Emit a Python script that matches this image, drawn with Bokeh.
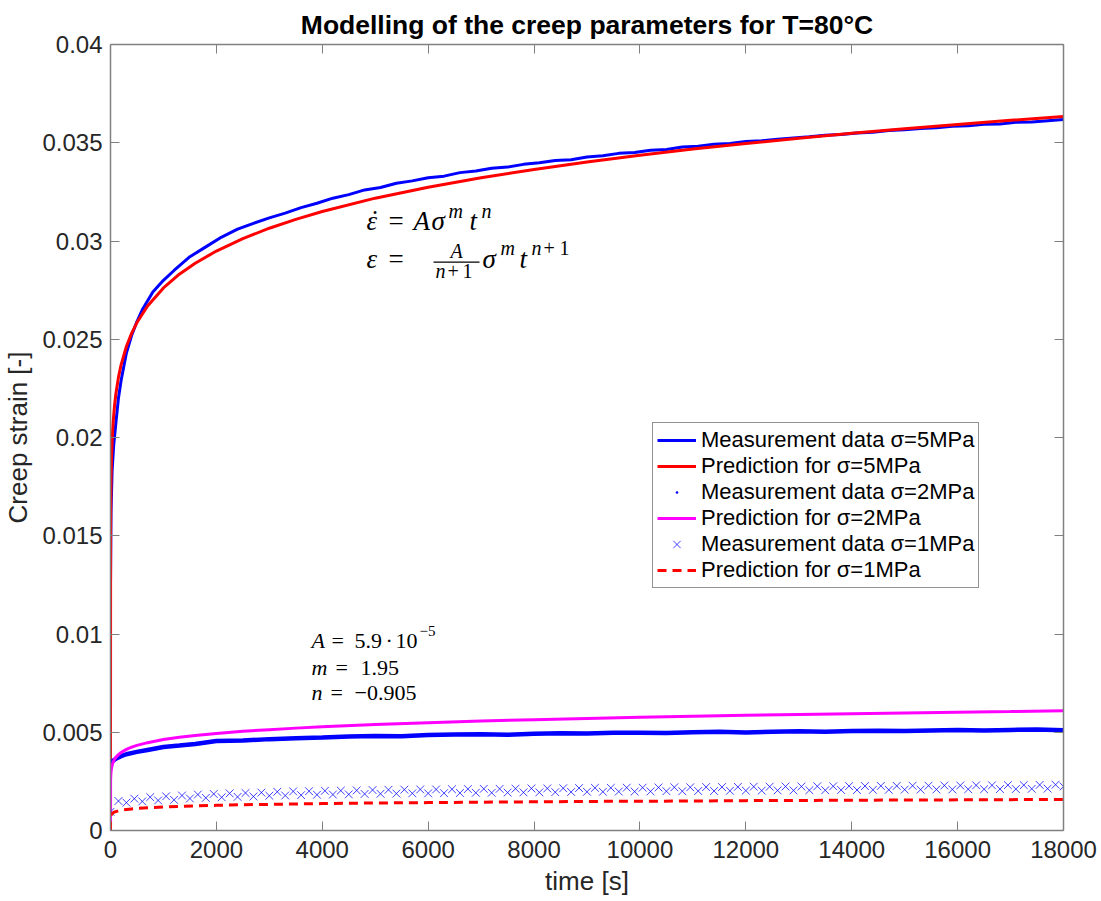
from bokeh.plotting import figure
from bokeh.models import (LinearAxis, FixedTicker, Label, Legend, LegendItem,
                          CustomJSTickFormatter, Range1d, BoxAnnotation)
from bokeh.embed import file_html
from bokeh.resources import INLINE

# ---------------- data ----------------
x_ticks = [0, 2000, 4000, 6000, 8000, 10000, 12000, 14000, 16000, 18000]
x_tick_labels = ["0", "2000", "4000", "6000", "8000", "10000", "12000", "14000", "16000", "18000"]
y_ticks = [0, 0.005, 0.01, 0.015, 0.02, 0.025, 0.03, 0.035, 0.04]
y_tick_labels = ["0", "0.005", "0.01", "0.015", "0.02", "0.025", "0.03", "0.035", "0.04"]

# predictions (same time grid for the three stress levels)
pred_t = [0, 2, 5, 10, 20, 35, 50, 75, 100, 150, 200, 300, 400, 500, 700, 1000, 1300, 1600,
          2000, 2500, 3000, 3500, 4000, 5000, 6000, 7000, 8000, 9000, 10000, 11000, 12000,
          13000, 14000, 15000, 16000, 17000, 18000]
pred5 = [0, 0.01530, 0.01669, 0.01783, 0.01904, 0.02008, 0.02077, 0.02159, 0.02219, 0.02306,
         0.02370, 0.02463, 0.02531, 0.02585, 0.02669, 0.02761, 0.02831, 0.02887, 0.02949,
         0.03012, 0.03065, 0.03110, 0.03150, 0.03218, 0.03274, 0.03322, 0.03364, 0.03402,
         0.03436, 0.03468, 0.03496, 0.03523, 0.03548, 0.03571, 0.03593, 0.03614, 0.03634]
pred2 = [0, 0.00256, 0.00280, 0.00299, 0.00319, 0.00336, 0.00348, 0.00362, 0.00372, 0.00386,
         0.00397, 0.00413, 0.00424, 0.00433, 0.00447, 0.00463, 0.00474, 0.00484, 0.00494,
         0.00505, 0.00513, 0.00521, 0.00528, 0.00539, 0.00548, 0.00557, 0.00564, 0.00570,
         0.00576, 0.00581, 0.00586, 0.00590, 0.00594, 0.00598, 0.00602, 0.00605, 0.00609]
pred1 = [0, 0.00066, 0.00072, 0.00077, 0.00083, 0.00087, 0.00090, 0.00094, 0.00096, 0.00100,
         0.00103, 0.00107, 0.00110, 0.00112, 0.00116, 0.00120, 0.00123, 0.00125, 0.00128,
         0.00131, 0.00133, 0.00135, 0.00137, 0.00140, 0.00142, 0.00144, 0.00146, 0.00148,
         0.00149, 0.00150, 0.00152, 0.00153, 0.00154, 0.00155, 0.00156, 0.00157, 0.00158]

# measurement, sigma = 5 MPa
meas5_t = [0, 10, 30, 60, 100, 150, 200, 300, 400, 500, 600, 800, 1000, 1200, 1500, 1800,
           2100, 2400, 2700] + list(range(3000, 18001, 300))
meas5 = [0.0125, 0.0162, 0.0183, 0.0196, 0.0207, 0.0220, 0.0229, 0.0243, 0.0252, 0.0259,
         0.0265, 0.0274, 0.0280, 0.0285, 0.0292, 0.0297, 0.0302, 0.0306, 0.0309,
         0.03118, 0.03142, 0.03170, 0.03192, 0.03218, 0.03236, 0.03260, 0.03272, 0.03294,
         0.03306, 0.03322, 0.03330, 0.03348, 0.03356, 0.03370, 0.03376, 0.03390, 0.03398,
         0.03410, 0.03414, 0.03428, 0.03434, 0.03446, 0.03450, 0.03462, 0.03466, 0.03478,
         0.03482, 0.03492, 0.03496, 0.03506, 0.03510, 0.03518, 0.03524, 0.03530, 0.03538,
         0.03542, 0.03550, 0.03554, 0.03562, 0.03566, 0.03572, 0.03576, 0.03584, 0.03586,
         0.03594, 0.03596, 0.03604, 0.03606, 0.03612, 0.03618]

# measurement, sigma = 2 MPa
meas2_t = [0, 20, 50, 100, 200, 300, 500, 700, 1000, 1300, 1600, 2000] + list(range(2500, 18001, 500))
meas2 = [0.00325, 0.00345, 0.00355, 0.00365, 0.00378, 0.00388, 0.00400, 0.00410, 0.00425,
         0.00432, 0.00440, 0.00455,
         0.00458, 0.00465, 0.00470, 0.00473, 0.00478, 0.00481, 0.00480, 0.00486, 0.00488,
         0.00490, 0.00487, 0.00492, 0.00495, 0.00494, 0.00497, 0.00498, 0.00496, 0.00500,
         0.00502, 0.00499, 0.00503, 0.00505, 0.00503, 0.00506, 0.00508, 0.00506, 0.00509,
         0.00511, 0.00509, 0.00512, 0.00514, 0.00510]

# measurement, sigma = 1 MPa (scattered band of x markers)
meas1_t = list(range(0, 18001, 150))
meas1 = [0.00095, 0.00150, 0.00142, 0.00162, 0.00148, 0.00170, 0.00153, 0.00174, 0.00156, 0.00178,
         0.00163, 0.00183, 0.00166, 0.00186, 0.00169, 0.00189, 0.00171, 0.00191, 0.00173, 0.00193,
         0.00177, 0.00197, 0.00178, 0.00199, 0.00180, 0.00200, 0.00182, 0.00202, 0.00183, 0.00203,
         0.00184, 0.00204, 0.00186, 0.00206, 0.00187, 0.00207, 0.00188, 0.00208, 0.00189, 0.00209,
         0.00189, 0.00209, 0.00190, 0.00210, 0.00191, 0.00211, 0.00192, 0.00212, 0.00192, 0.00212,
         0.00193, 0.00213, 0.00194, 0.00214, 0.00194, 0.00214, 0.00195, 0.00215, 0.00196, 0.00216,
         0.00197, 0.00217, 0.00197, 0.00217, 0.00198, 0.00218, 0.00198, 0.00218, 0.00199, 0.00219,
         0.00200, 0.00220, 0.00200, 0.00220, 0.00201, 0.00221, 0.00201, 0.00221, 0.00202, 0.00222,
         0.00203, 0.00223, 0.00203, 0.00223, 0.00204, 0.00224, 0.00204, 0.00224, 0.00205, 0.00225,
         0.00205, 0.00225, 0.00206, 0.00226, 0.00206, 0.00226, 0.00207, 0.00227, 0.00207, 0.00227,
         0.00208, 0.00228, 0.00208, 0.00228, 0.00209, 0.00229, 0.00209, 0.00229, 0.00210, 0.00230,
         0.00210, 0.00230, 0.00211, 0.00231, 0.00211, 0.00231, 0.00212, 0.00232, 0.00213, 0.00233,
         0.00224]

legend_labels = ["Measurement data \u03c3=5MPa", "Prediction for \u03c3=5MPa",
                 "Measurement data \u03c3=2MPa", "Prediction for \u03c3=2MPa",
                 "Measurement data \u03c3=1MPa", "Prediction for \u03c3=1MPa"]

assert len(pred_t) == len(pred5) == len(pred2) == len(pred1)
assert len(meas5_t) == len(meas5)
assert len(meas2_t) == len(meas2)
assert len(meas1_t) == len(meas1)

# ---------------- styling ----------------
SANS = "Liberation Sans"
SERIF = "Liberation Serif"
AXC = "#808080"
TXT = "#262626"
X_MAX, Y_MAX = 18000, 0.04
FL, FT, FW, FH = 110, 44, 953, 786   # frame position in page pixels

p = figure(frame_width=FW, frame_height=FH,
           x_range=Range1d(0, X_MAX), y_range=Range1d(0, Y_MAX),
           output_backend="svg", toolbar_location=None,
           min_border_left=FL, min_border_top=FT,
           min_border_right=36, min_border_bottom=70,
           background_fill_color="white", border_fill_color="white")
p.outline_line_color = None
p.xgrid.visible = False
p.ygrid.visible = False

p.title.text = "Modelling of the creep parameters for T=80\u00b0C"
p.title.text_font = SANS
p.title.text_font_size = "26.5px"
p.title.text_font_style = "bold"
p.title.text_color = "black"
p.title.align = "center"
p.title.standoff = 10


def style_axis(ax, ticks, labels, show):
    ax.ticker = FixedTicker(ticks=ticks)
    if show:
        ax.major_label_overrides = dict(zip(ticks, labels))
    else:
        ax.formatter = CustomJSTickFormatter(code="return ''")
        ax.major_label_standoff = 0
    ax.major_tick_in = 9
    ax.major_tick_out = 0
    ax.minor_tick_in = 0
    ax.minor_tick_out = 0
    ax.axis_line_color = AXC
    ax.axis_line_width = 1.5
    ax.major_tick_line_color = AXC
    ax.major_tick_line_width = 1
    ax.major_label_text_font = SANS
    ax.major_label_text_font_size = "24px"
    ax.major_label_text_color = TXT
    ax.axis_label_text_font = SANS
    ax.axis_label_text_font_size = "26px"
    ax.axis_label_text_font_style = "normal"
    ax.axis_label_text_color = TXT


xb = p.xaxis[0]
yl = p.yaxis[0]
style_axis(xb, x_ticks, x_tick_labels, True)
style_axis(yl, y_ticks, y_tick_labels, True)
xb.axis_label = "time [s]"
yl.axis_label = "Creep strain [-]"
xb.major_label_standoff = 10
xb.axis_label_standoff = 5
yl.major_label_standoff = 8
yl.axis_label_standoff = 6

xt = LinearAxis()
style_axis(xt, x_ticks, x_tick_labels, False)
p.add_layout(xt, "above")
yr = LinearAxis()
style_axis(yr, y_ticks, y_tick_labels, False)
p.add_layout(yr, "right")

# ---------------- series ----------------
BLUE, RED, MAG = "#0000ff", "#ff0000", "#ff00ff"
r1 = p.line(meas5_t, meas5, line_color=BLUE, line_width=3)
r2 = p.line(pred_t, pred5, line_color=RED, line_width=3)
p.line(meas2_t, meas2, line_color=BLUE, line_width=4.5)
r3 = p.scatter(meas2_t, meas2, marker="dot", size=12, fill_color=BLUE, line_color=BLUE, line_width=2.5)
r4 = p.line(pred_t, pred2, line_color=MAG, line_width=3)
r5 = p.scatter(meas1_t, meas1, marker="x", size=11, line_color=BLUE, line_width=1, line_alpha=0.75)
r6 = p.line(pred_t, pred1, line_color=RED, line_width=3, line_dash="9 6")

legend = Legend(items=[LegendItem(label=l, renderers=[r])
                       for l, r in zip(legend_labels, [r1, r2, r3, r4, r5, r6])],
                location=(652 - FL, (FT + FH) - 588),
                border_line_color=TXT, border_line_width=1,
                background_fill_color="white", background_fill_alpha=1.0,
                label_text_font=SANS, label_text_font_size="22px", label_text_color="black",
                glyph_width=39, glyph_height=26, label_height=26, label_standoff=5,
                spacing=0, padding=4, margin=0)
p.add_layout(legend)


# ---------------- formula annotations (page-pixel placement) ----------------
def px2x(px):
    return (px - FL) / FW * X_MAX


def py2y(py):
    return (FT + FH - py) / FH * Y_MAX


annotations = [
    # eps_dot = A sigma^m t^n
    ("\u03b5", 366, 220, 27, "italic"), ("\u02d9", 370, 219, 27, "normal"),
    ("=", 388, 220, 27, "normal"),
    ("A", 413, 220, 27, "italic"), ("\u03c3", 431, 220, 27, "italic"),
    ("m", 448, 210, 20, "italic"), ("t", 469, 220, 27, "italic"), ("n", 481, 210, 20, "italic"),
    # eps = A/(n+1) sigma^m t^(n+1)
    ("\u03b5", 366, 258, 27, "italic"), ("=", 388, 258, 27, "normal"),
    ("A", 450, 250, 20, "italic"),
    ("n", 435, 270, 20, "italic"), ("+", 447, 270, 20, "normal"), ("1", 462, 270, 20, "normal"),
    ("\u03c3", 482, 258, 27, "italic"), ("m", 500, 247, 20, "italic"),
    ("t", 519, 258, 27, "italic"),
    ("n", 531, 247, 20, "italic"), ("+", 543, 247, 20, "normal"), ("1", 559, 247, 20, "normal"),
    # parameter block
    ("A", 311, 640, 22, "italic"), ("=", 331, 640, 22, "normal"), ("5.9", 354, 640, 22, "normal"),
    ("\u00b7", 385, 640, 22, "normal"), ("10", 395, 640, 22, "normal"),
    ("\u22125", 419, 630, 15, "normal"),
    ("m", 311, 667, 22, "italic"), ("=", 335, 667, 22, "normal"), ("1.95", 360, 667, 22, "normal"),
    ("n", 311, 692, 22, "italic"), ("=", 330, 692, 22, "normal"), ("\u22120.905", 354, 692, 22, "normal"),
]
for txt, px, py, size, style in annotations:
    p.add_layout(Label(x=px2x(px), y=py2y(py), text=txt, text_font=SERIF,
                       text_font_size=f"{size}px", text_font_style=style, text_color="black",
                       text_align="left", text_baseline="alphabetic"))

# fraction bar of A/(n+1)
p.add_layout(BoxAnnotation(left=px2x(433), right=px2x(479), top=py2y(261), bottom=py2y(262.3),
                           fill_color="black", fill_alpha=1, line_color=None))

open("out.html", "w").write(file_html(p, INLINE))
